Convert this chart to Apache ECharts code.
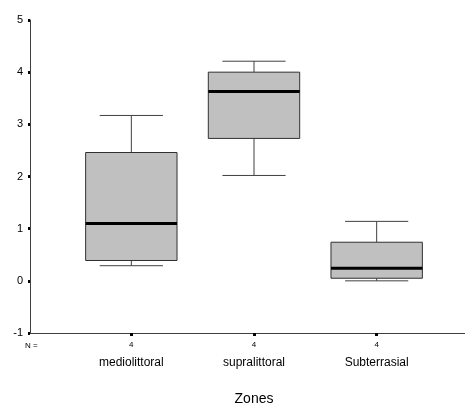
<!DOCTYPE html>
<html><head><meta charset="utf-8">
<script src="https://cdn.jsdelivr.net/npm/echarts@6/dist/echarts.min.js"></script>
<style>html,body{margin:0;padding:0;background:#fff}#c{width:465px;height:403px}</style>
</head><body><div id="c"></div>
<script>
var categories = ['mediolittoral', 'supralittoral', 'Subterrasial'];
var counts = [4, 4, 4];
// [min, Q1, median, Q3, max]
var boxMin = [0.29, 2.02, 0.00];
var boxQ1 = [0.39, 2.73, 0.05];
var boxMedian = [1.10, 3.63, 0.24];
var boxQ3 = [2.46, 4.00, 0.74];
var boxMax = [3.17, 4.21, 1.14];
var yTicks = [-1, 0, 1, 2, 3, 4, 5];

var data = categories.map(function (c, i) {
  return [i, boxMin[i], boxQ1[i], boxMedian[i], boxQ3[i], boxMax[i]];
});

var font = 'Liberation Sans, Arial, sans-serif';
var chart = echarts.init(document.getElementById('c'));
chart.setOption({
  animation: false,
  grid: [
    {left: 30, right: 0, top: 20, bottom: 70, outerBoundsMode: 'none', containLabel: false},
    {left: 70, width: 368, top: 20, bottom: 70, outerBoundsMode: 'none', containLabel: false}
  ],
  xAxis: [
    {gridIndex: 0, type: 'value', min: 0, max: 1,
     axisLine: {show: true, onZero: false, lineStyle: {color: '#404040', width: 1}},
     axisTick: {show: false}, axisLabel: {show: false}, splitLine: {show: false}},
    {gridIndex: 1, type: 'category', data: categories, boundaryGap: true,
     axisLine: {show: false, onZero: false},
     axisTick: {show: true, alignWithLabel: true, length: 3, lineStyle: {color: '#000', width: 3}},
     axisLabel: {margin: 6, interval: 0,
       formatter: function (v, i) { return '{n|' + counts[i] + '}\n{c|' + v + '}'; },
       rich: {n: {fontSize: 8, fontFamily: font, color: '#000', lineHeight: 12},
              c: {fontSize: 12, fontFamily: font, color: '#000', lineHeight: 24}}},
     name: 'Zones', nameLocation: 'middle', nameGap: 59,
     nameTextStyle: {fontSize: 14, fontFamily: font, color: '#000'},
     splitLine: {show: false}}
  ],
  yAxis: [
    {gridIndex: 0, type: 'value', min: -1, max: 5, interval: 1,
     axisLine: {show: true, onZero: false, lineStyle: {color: '#404040', width: 1}},
     axisTick: {show: true, length: 2, lineStyle: {color: '#000', width: 3}},
     axisLabel: {fontSize: 11, fontFamily: font, color: '#000', margin: 7,
       formatter: function (v) { return yTicks.indexOf(v) >= 0 ? String(v) : ''; }},
     splitLine: {show: false}},
    {gridIndex: 1, type: 'value', min: -1, max: 5, interval: 1, show: false}
  ],
  graphic: [
    {type: 'text', left: 25, top: 342, style: {text: 'N =', font: '8px ' + font, fill: '#000'}}
  ],
  series: [{
    type: 'custom',
    xAxisIndex: 1, yAxisIndex: 1,
    data: data,
    renderItem: function (params, api) {
      var idx = api.value(0);
      var band = api.size([1, 0])[0];
      var bw = band * 0.745, cw = band * 0.515;
      var pMin = api.coord([idx, api.value(1)]);
      var pQ1 = api.coord([idx, api.value(2)]);
      var pMed = api.coord([idx, api.value(3)]);
      var pQ3 = api.coord([idx, api.value(4)]);
      var pMax = api.coord([idx, api.value(5)]);
      var x = pMed[0];
      var wl = {stroke: '#404040', lineWidth: 1};
      return {type: 'group', children: [
        {type: 'line', shape: {x1: x, y1: pMax[1], x2: x, y2: pQ3[1]}, style: wl},
        {type: 'line', shape: {x1: x, y1: pQ1[1], x2: x, y2: pMin[1]}, style: wl},
        {type: 'line', shape: {x1: x - cw / 2, y1: pMax[1], x2: x + cw / 2, y2: pMax[1]}, style: wl},
        {type: 'line', shape: {x1: x - cw / 2, y1: pMin[1], x2: x + cw / 2, y2: pMin[1]}, style: wl},
        {type: 'rect', shape: {x: x - bw / 2, y: pQ3[1], width: bw, height: pQ1[1] - pQ3[1]},
         style: {fill: '#c0c0c0', stroke: '#303030', lineWidth: 1}},
        {type: 'line', shape: {x1: x - bw / 2, y1: pMed[1], x2: x + bw / 2, y2: pMed[1]},
         style: {stroke: '#000', lineWidth: 3}}
      ]};
    }
  }]
});
</script></body></html>
